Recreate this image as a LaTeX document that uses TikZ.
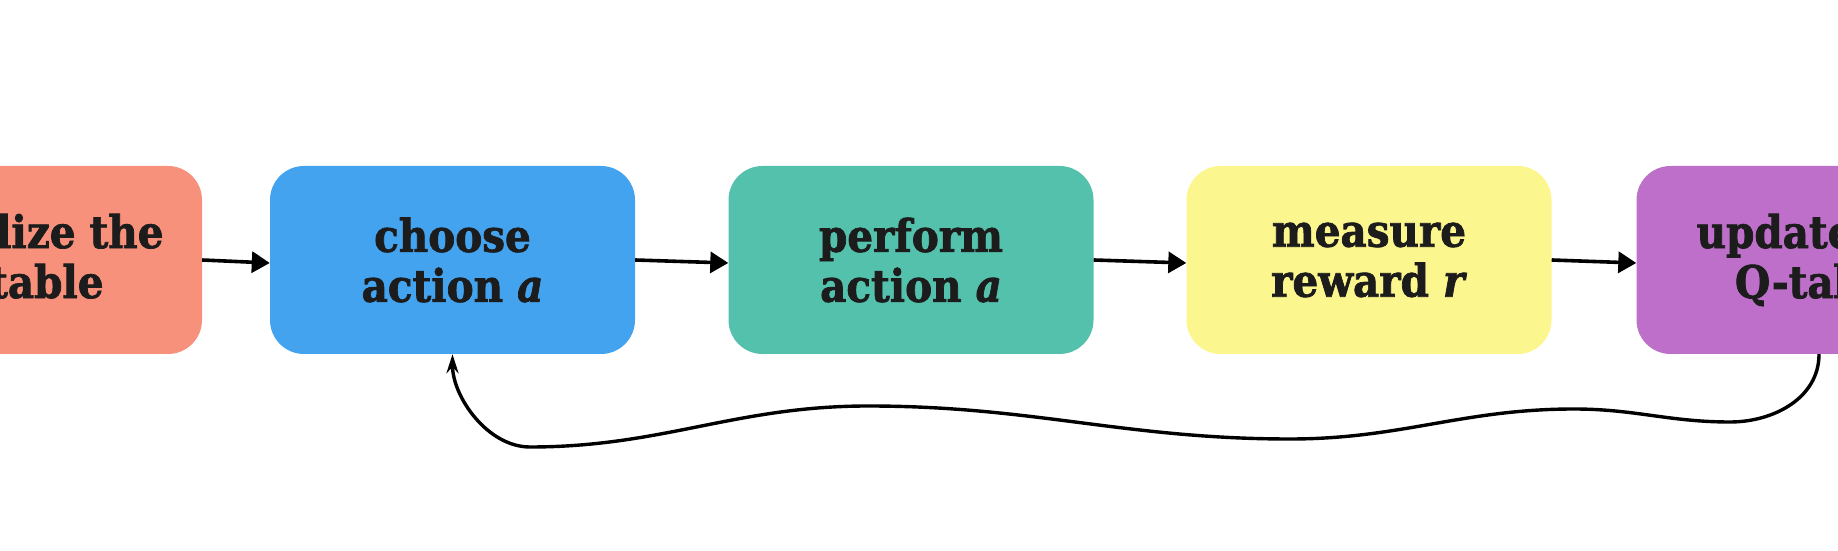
\documentclass[tikz,border=0pt]{standalone}
\usepackage{fontspec}
\setmainfont{DejaVu Serif Condensed}[BoldFeatures={FakeBold=1.6},BoldItalicFeatures={FakeBold=1.6}]
\usetikzlibrary{arrows.meta}
\definecolor{salmon}{HTML}{F8917C}
\definecolor{bblue}{HTML}{43A3EF}
\definecolor{teal}{HTML}{54C1AD}
\definecolor{yell}{HTML}{FCF68E}
\definecolor{purp}{HTML}{BD6FC9}
\definecolor{txt}{HTML}{1C1C1C}
\begin{document}
\begin{tikzpicture}[x=1pt,y=1pt,
  box/.style={rectangle, rounded corners=34pt, minimum width=365pt, minimum height=188pt,
    inner sep=0pt, align=center, text=txt, font=\bfseries\fontsize{45}{50}\selectfont},
  flow/.style={-{Triangle[length=18pt,width=21pt]}, line width=3.6pt},
  back/.style={-{Stealth[length=19pt,width=12pt]}, line width=3.4pt}]
\useasboundingbox (0,0) rectangle (1838,551);
\clip (0,0) rectangle (1838,551);
\node[box, fill=salmon] (init) at (19.5,291) {initialize the\\Q-table};
\node[box, fill=bblue] (choose) at (452.5,291) {choose\\action \textit{a}};
\node[box, fill=teal] (perform) at (911,291) {perform\\action \textit{a}};
\node[box, fill=yell] (measure) at (1369,291) {measure\\reward \textit{r}};
\node[box, fill=purp] (update) at (1819,291) {update the\\Q-table};
\draw[flow] (init.east) -- ([yshift=-3pt]choose.west);
\draw[flow] (choose.east) -- ([yshift=-3pt]perform.west);
\draw[flow] (perform.east) -- ([yshift=-3pt]measure.west);
\draw[flow] (measure.east) -- ([yshift=-3pt]update.west);
\coordinate (w1) at (1730,129);
\coordinate (w2) at (1574,142);
\coordinate (w3) at (1290,112);
\coordinate (w4) at (868,145);
\coordinate (w5) at (530,104);
\draw[back] (update.south) to[out=-90,in=0] (w1) to[out=180,in=0] (w2)
  to[out=180,in=0] (w3) to[out=180,in=0] (w4) to[out=180,in=0] (w5)
  to[out=180,in=-90,looseness=0.9] (choose.south);
\end{tikzpicture}
\end{document}
